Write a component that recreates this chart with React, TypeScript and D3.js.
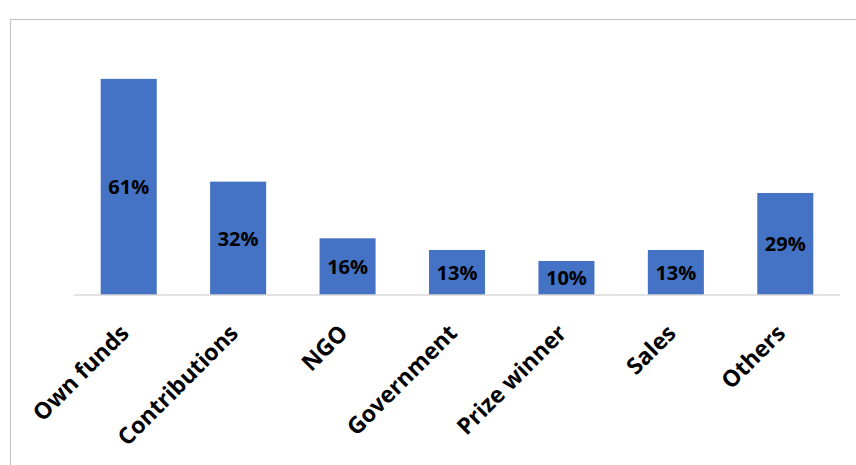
import React from "react";
import * as d3 from "d3";

const categories: string[] = ["Own funds", "Contributions", "NGO", "Government", "Prize winner", "Sales", "Others"];
const values: number[] = [61, 32, 16, 12.7, 9.6, 12.7, 28.8];

const W = 856;
const H = 465;

export default function App() {
  const x = d3.scaleBand<string>().domain(categories).range([74, 840]).paddingInner(0.488).paddingOuter(0.244);
  const y = d3.scaleLinear().domain([0, 70]).range([295, 47]);
  const font = "'Open Sans', 'Liberation Sans', sans-serif";
  return (
    <svg width={W} height={H} style={{ position: "absolute", left: 0, top: 0, background: "#fff" }} fontFamily={font}>
      <rect x={10.5} y={19.5} width={W + 20} height={H + 20} fill="#fff" stroke="#c4c4c4" strokeWidth={1.2} />
      {categories.map((c, i) => (
        <rect key={c} x={x(c)} y={y(values[i])} width={x.bandwidth()} height={y(0) - y(values[i])} fill="#4472C4" />
      ))}
      <line x1={74} x2={840} y1={295} y2={295} stroke="#d9d9d9" strokeWidth={1.5} />
      {categories.map((c, i) => (
        <text
          key={"v" + c}
          x={(x(c) as number) + x.bandwidth() / 2}
          y={(y(values[i]) + y(0)) / 2}
          dy="0.36em"
          textAnchor="middle"
          fontWeight={700}
          fontSize={20}
          fill="#000"
        >
          {Math.round(values[i]) + "%"}
        </text>
      ))}
      {categories.map((c) => {
        const cx = (x(c) as number) + x.bandwidth() / 2;
        return (
          <text
            key={"c" + c}
            transform={`translate(${cx - 10},${323}) rotate(-45)`}
            dy="0.71em"
            textAnchor="end"
            fontWeight={700}
            fontSize={23}
            fill="#000"
          >
            {c}
          </text>
        );
      })}
    </svg>
  );
}
